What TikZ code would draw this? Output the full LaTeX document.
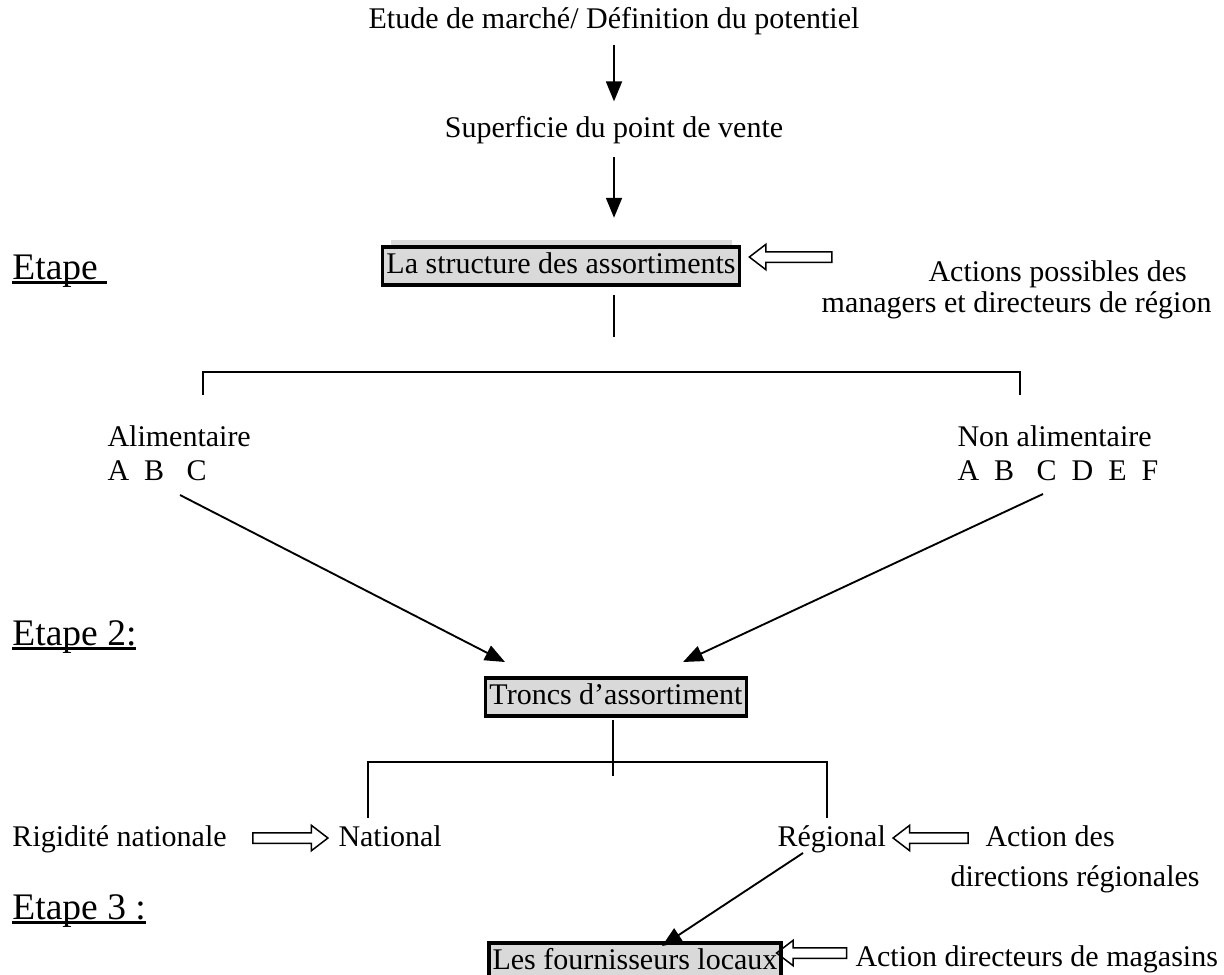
\documentclass[tikz,border=0pt]{standalone}
\usepackage{fontspec}
\setmainfont{Liberation Serif}
\usetikzlibrary{arrows.meta,shapes.arrows}
\definecolor{fondgris}{RGB}{217,217,217}
\newcommand\souligne[1]{\setbox0\hbox{#1}\rlap{\rule[-1.8pt]{\wd0}{1.1pt}}\box0}
\begin{document}
\begin{tikzpicture}[x=0.4pt,y=-0.4pt,
  txt/.style={inner sep=0pt,font=\fontsize{12}{13.8}\selectfont},
  etape/.style={inner sep=0pt,anchor=base west,font=\fontsize{15}{18}\selectfont},
  cadre/.style={txt,draw,line width=1.4pt,fill=fondgris,inner xsep=1.5pt,inner ysep=2pt,text height=8.6pt,text depth=2.6pt},
  trait/.style={line width=0.75pt},
  fleche/.style={trait,-{Triangle[length=8pt,width=6.4pt]}},
  creuse/.style={single arrow,draw,line width=0.6pt,inner sep=1.8pt,minimum width=9.6pt,single arrow head extend=3pt,single arrow tip angle=75,minimum height=30pt}]
\useasboundingbox (0,0) rectangle (1224,974);
% top:
\node[txt,anchor=base] (etude) at (614,28) {Etude de marché/ Définition du potentiel};
\node[txt,anchor=base] (superf) at (614,137) {Superficie du point de vente};
\draw[fleche,shorten <=4pt,shorten >=5.6pt] (etude.south) -- (superf.north);
\fill[fondgris] (391,240) rectangle (732,247);
\node[cadre] (box1) at (561,266) {La structure des assortiments};
\draw[fleche,shorten <=5.4pt,shorten >=11pt] (superf.south) -- (superf.south |- box1.north);
\node[etape] (e1) at (12,279) {\souligne{Etape\ }};
\node[creuse,shape border rotate=180,minimum height=33pt] (h1) at (794,257) {};
\node[txt,anchor=base west] (act1) at (928,281) {Actions possibles des};
\node[txt,anchor=base east] (act2) at (1212,312) {managers et directeurs de région};
% first split:
\coordinate (j1) at (614,295);
\coordinate (j2) at (614,337);
\draw[trait] (j1) -- (j2);
\coordinate (g1) at (203,395);
\coordinate (d1) at (1020,395);
\draw[trait] (g1) -- ++(0,-23) -| (d1);
\node[txt,anchor=base west] (alim) at (107,446) {Alimentaire};
\node[txt,anchor=base west] (alimabc) at (107,480) {A~~B~~~C};
\node[txt,anchor=base west] (nonalim) at (957,446) {Non alimentaire};
\node[txt,anchor=base west] (nonalimabc) at (957,480) {A~~B~~~C~~D~~E~~F};
\coordinate (s1) at (180,495);
\coordinate (t1) at (505,662);
\coordinate (s2) at (1043,494);
\coordinate (t2) at (683,662);
\draw[fleche] (s1) -- (t1);
\draw[fleche] (s2) -- (t2);
% step 2:
\node[etape] (e2) at (12,645) {\souligne{Etape 2:}};
\node[cadre] (box2) at (616,697) {Troncs d’assortiment};
\coordinate (j3) at (613,720);
\coordinate (j4) at (613,776);
\draw[trait] (j3) -- (j4);
\coordinate (g2) at (368,818);
\coordinate (d2) at (827,818);
\draw[trait] (g2) -- ++(0,-56) -| (d2);
\node[txt,anchor=base west] (rigid) at (12,846) {Rigidité nationale};
\node[creuse] (h2) at (287,838) {};
\node[txt,anchor=base west] (nat) at (338,846) {National};
\node[txt,anchor=base west] (reg) at (777,846) {Régional};
\node[creuse,shape border rotate=180] (h3) at (934,838) {};
\node[txt,anchor=base west] (actd1) at (985,846) {Action des};
\node[txt,anchor=base west] (actd2) at (950,886) {directions régionales};
% step 3:
\node[etape] (e3) at (12,919) {\souligne{Etape 3 :}};
\node[cadre,anchor=north west] (box3) at (487,941) {Les fournisseurs locaux};
\coordinate (s3) at (803,853);
\coordinate (t3) at (662,946);
\draw[fleche] (s3) -- (t3);
\node[creuse,shape border rotate=180,minimum height=28pt] (h4) at (815,953) {};
\node[txt,anchor=base west] (actm) at (855,966) {Action directeurs de magasins};
\end{tikzpicture}
\end{document}
